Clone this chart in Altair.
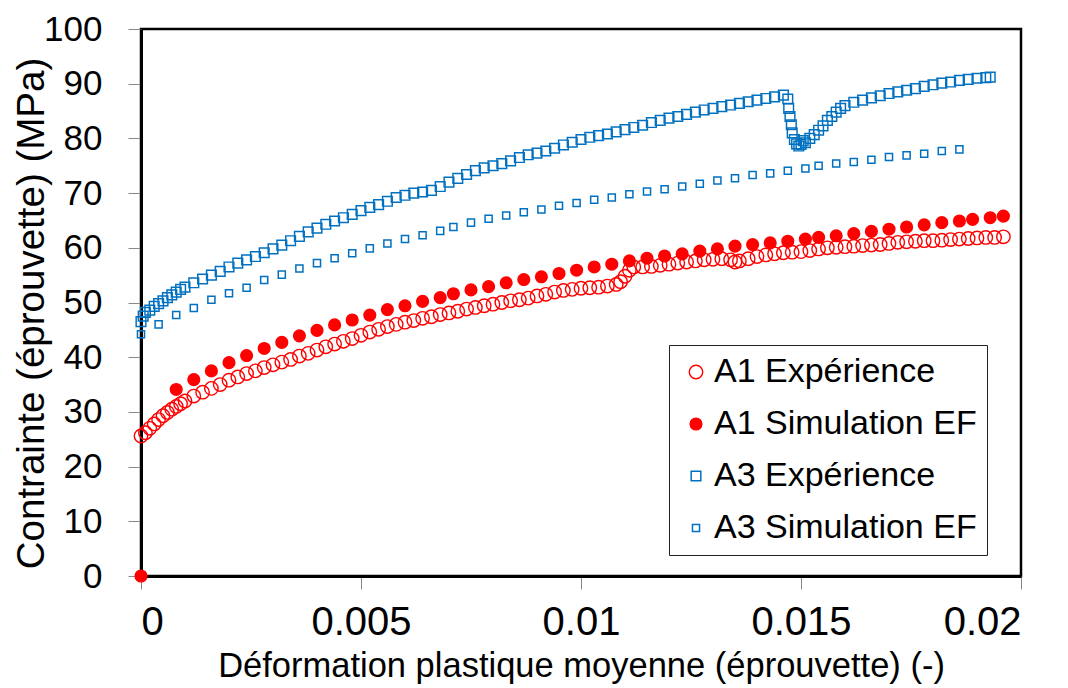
import altair as alt
import pandas as pd

series_names = ["A1 Expérience", "A1 Simulation EF", "A3 Expérience", "A3 Simulation EF"]
x_ticks = [0, 0.005, 0.01, 0.015, 0.02]
y_ticks = [0, 10, 20, 30, 40, 50, 60, 70, 80, 90, 100]

a1_exp_x = [
    0.0000, 0.0001, 0.0002, 0.0003, 0.0004, 0.0005, 0.0006, 0.0007, 0.0008, 0.0009,
    0.0010, 0.0012, 0.0014, 0.0016, 0.0018, 0.0020, 0.0022, 0.0024, 0.0026, 0.0028,
    0.0030, 0.0032, 0.0034, 0.0036, 0.0038, 0.0040, 0.0042, 0.0044, 0.0046, 0.0048,
    0.0050, 0.0052, 0.0054, 0.0056, 0.0058, 0.0060, 0.0062, 0.0064, 0.0066, 0.0068,
    0.0070, 0.0072, 0.0074, 0.0076, 0.0078, 0.0080, 0.0082, 0.0084, 0.0086, 0.0088,
    0.0090, 0.0092, 0.0094, 0.0096, 0.0098, 0.0100, 0.0102, 0.0104, 0.0106, 0.0108,
    0.0109, 0.0110, 0.0111, 0.0112, 0.0114, 0.0116, 0.0118, 0.0120, 0.0122, 0.0124,
    0.0126, 0.0128, 0.0130, 0.0132, 0.0134, 0.0135, 0.0136, 0.0138, 0.0140, 0.0142,
    0.0144, 0.0146, 0.0148, 0.0150, 0.0152, 0.0154, 0.0156, 0.0158, 0.0160, 0.0162,
    0.0164, 0.0166, 0.0168, 0.0170, 0.0172, 0.0174, 0.0176, 0.0178, 0.0180, 0.0182,
    0.0184, 0.0186, 0.0188, 0.0190, 0.0192, 0.0194, 0.0196,
]
a1_exp_y = [
    25.6, 26.2, 27.0, 27.8, 28.6, 29.3, 29.9, 30.5, 31.0, 31.5,
    32.0, 32.9, 33.6, 34.3, 35.0, 35.8, 36.4, 37.0, 37.5, 38.1,
    38.6, 39.1, 39.6, 40.2, 40.7, 41.3, 41.9, 42.4, 42.9, 43.4,
    44.0, 44.6, 45.1, 45.6, 46.0, 46.4, 46.7, 47.1, 47.4, 47.8,
    48.1, 48.4, 48.8, 49.1, 49.4, 49.7, 50.0, 50.3, 50.5, 50.8,
    51.2, 51.5, 51.9, 52.2, 52.4, 52.6, 52.7, 52.8, 53.0, 53.3,
    53.8, 54.8, 55.9, 56.5, 56.5, 56.6, 56.8, 57.0, 57.2, 57.4,
    57.6, 57.8, 57.9, 58.0, 57.8, 57.4, 57.6, 58.0, 58.4, 58.7,
    58.9, 59.1, 59.2, 59.3, 59.5, 59.8, 60.0, 60.1, 60.2, 60.3,
    60.4, 60.5, 60.6, 60.8, 61.0, 61.1, 61.2, 61.3, 61.3, 61.4,
    61.5, 61.6, 61.7, 61.8, 61.9, 61.9, 62.0,
]

a1_sim_x = [
    0.0, 0.0008, 0.0012, 0.0016, 0.0020, 0.0024, 0.0028, 0.0032, 0.0036, 0.0040,
    0.0044, 0.0048, 0.0052, 0.0056, 0.0060, 0.0064, 0.0068, 0.0071, 0.0075, 0.0079,
    0.0083, 0.0087, 0.0091, 0.0095, 0.0099, 0.0103, 0.0107, 0.0111, 0.0115, 0.0119,
    0.0123, 0.0127, 0.0131, 0.0135, 0.0139, 0.0143, 0.0147, 0.0151, 0.0154, 0.0158,
    0.0162, 0.0166, 0.0170, 0.0174, 0.0178, 0.0182, 0.0186, 0.0189, 0.0193, 0.0196,
]
a1_sim_y = [
    0.0, 34.1, 35.9, 37.5, 39.0, 40.3, 41.6, 42.7, 43.9, 44.9,
    45.9, 46.8, 47.7, 48.7, 49.4, 50.2, 50.9, 51.6, 52.3, 52.9,
    53.6, 54.2, 54.7, 55.3, 55.9, 56.5, 57.0, 57.6, 58.1, 58.5,
    58.9, 59.4, 59.8, 60.3, 60.6, 60.9, 61.2, 61.6, 61.9, 62.2,
    62.6, 63.0, 63.4, 63.8, 64.2, 64.6, 64.9, 65.2, 65.5, 65.8,
]

a3_exp_x = [
    0.0, 0.00005, 0.0001, 0.0002, 0.0003, 0.0004, 0.0005, 0.0006, 0.0007, 0.0008,
    0.0009, 0.0010, 0.0012, 0.0014, 0.0016, 0.0018, 0.0020, 0.0022, 0.0024, 0.0026,
    0.0028, 0.0030, 0.0032, 0.0034, 0.0036, 0.0038, 0.0040, 0.0042, 0.0044, 0.0046,
    0.0048, 0.0050, 0.0052, 0.0054, 0.0056, 0.0058, 0.0060, 0.0062, 0.0064, 0.0066,
    0.0068, 0.0070, 0.0072, 0.0074, 0.0076, 0.0078, 0.0080, 0.0082, 0.0084, 0.0086,
    0.0088, 0.0090, 0.0092, 0.0094, 0.0096, 0.0098, 0.0100, 0.0102, 0.0104, 0.0106,
    0.0108, 0.0110, 0.0112, 0.0114, 0.0116, 0.0118, 0.0120, 0.0122, 0.0124, 0.0126,
    0.0128, 0.0130, 0.0132, 0.0134, 0.0136, 0.0138, 0.0140, 0.0142, 0.0144, 0.0146,
    0.01470, 0.01472, 0.01475, 0.01478, 0.01480, 0.01485, 0.01490, 0.01495, 0.01500, 0.01505,
    0.01510, 0.01520, 0.01530, 0.01540, 0.01550, 0.01560, 0.01570, 0.01580, 0.01590, 0.01600,
    0.0162, 0.0164, 0.0166, 0.0168, 0.0170, 0.0172, 0.0174, 0.0176, 0.0178, 0.0180,
    0.0182, 0.0184, 0.0186, 0.0188, 0.0190, 0.0192, 0.0193,
]
a3_exp_y = [
    46.5, 47.5, 48.2, 48.6, 49.3, 49.8, 50.3, 50.9, 51.4, 51.9,
    52.4, 52.8, 53.6, 54.3, 55.0, 55.7, 56.5, 57.2, 57.8, 58.4,
    59.1, 59.8, 60.5, 61.3, 62.1, 62.9, 63.6, 64.3, 64.9, 65.5,
    66.1, 66.8, 67.4, 67.9, 68.5, 69.2, 69.6, 70.0, 70.2, 70.5,
    71.2, 72.0, 72.7, 73.4, 74.1, 74.6, 75.0, 75.4, 75.9, 76.5,
    77.0, 77.3, 77.7, 78.2, 78.8, 79.3, 79.8, 80.2, 80.5, 80.8,
    81.2, 81.6, 82.0, 82.4, 82.9, 83.3, 83.7, 84.0, 84.4, 84.8,
    85.2, 85.5, 85.8, 86.1, 86.4, 86.7, 87.0, 87.3, 87.6, 87.9,
    87.2, 85.5, 84.0, 82.5, 81.0, 79.8, 79.0, 78.6, 78.9, 79.6,
    79.2, 80.0, 80.7, 81.5, 82.3, 83.3, 84.0, 84.8, 85.5, 86.0,
    86.6, 87.0, 87.4, 87.8, 88.2, 88.5, 88.8, 89.1, 89.5, 89.8,
    90.1, 90.3, 90.6, 90.8, 91.0, 91.1, 91.2,
]

a3_sim_x = [
    0.0, 0.0004, 0.0008, 0.0012, 0.0016, 0.0020, 0.0024, 0.0028, 0.0032, 0.0036,
    0.0040, 0.0044, 0.0048, 0.0052, 0.0056, 0.0060, 0.0064, 0.0068, 0.0071, 0.0075,
    0.0079, 0.0083, 0.0087, 0.0091, 0.0095, 0.0099, 0.0103, 0.0107, 0.0111, 0.0115,
    0.0119, 0.0123, 0.0127, 0.0131, 0.0135, 0.0139, 0.0143, 0.0147, 0.0151, 0.0154,
    0.0158, 0.0162, 0.0166, 0.0170, 0.0174, 0.0178, 0.0182, 0.0186,
]
a3_sim_y = [
    44.2, 46.0, 47.7, 49.0, 50.5, 51.7, 52.7, 54.1, 55.1, 56.2,
    57.2, 58.1, 59.0, 59.9, 60.8, 61.6, 62.3, 63.1, 63.8, 64.6,
    65.3, 65.9, 66.5, 67.0, 67.7, 68.2, 68.8, 69.2, 69.8, 70.3,
    70.7, 71.2, 71.7, 72.3, 72.7, 73.3, 73.6, 74.1, 74.5, 75.0,
    75.4, 75.7, 76.1, 76.6, 76.9, 77.2, 77.7, 78.0,
]

series_data = [
    (series_names[0], a1_exp_x, a1_exp_y),
    (series_names[1], a1_sim_x, a1_sim_y),
    (series_names[2], a3_exp_x, a3_exp_y),
    (series_names[3], a3_sim_x, a3_sim_y),
]
rows = []
for name, xs, ys in series_data:
    for xv, yv in zip(xs, ys):
        rows.append({"x": xv, "y": yv, "series": name})
df = pd.DataFrame(rows)

FONT = "Liberation Sans"
RED = "#FF0000"
BLUE = "#0070C0"

legend = alt.Legend(
    title=None, orient="none", legendX=528, legendY=316,
    labelFontSize=34, labelFont=FONT, labelColor="black", labelLimit=0,
    fillColor="white", strokeColor="#222222",
    padding=10, rowPadding=18, symbolOffset=0, labelOffset=1,
)

chart = alt.Chart(df).mark_point(filled=False, opacity=1).encode(
    x=alt.X(
        "x:Q",
        scale=alt.Scale(domain=[0, 0.02], nice=False, zero=False),
        axis=alt.Axis(
            values=x_ticks, format="~g", title="Déformation plastique moyenne (éprouvette) (-)",
            labelFontSize=40, titleFontSize=34.5, labelPadding=13, titlePadding=7,
        ),
    ),
    y=alt.Y(
        "y:Q",
        scale=alt.Scale(domain=[0, 100], nice=False),
        axis=alt.Axis(
            values=y_ticks, format="d", title="Contrainte (éprouvette) (MPa)",
            labelFontSize=35, titleFontSize=38.5, labelPadding=26,
            titleX=-110, titleY=284, titleAlign="center", titleBaseline="middle",
        ),
    ),
    shape=alt.Shape("series:N", scale=alt.Scale(domain=series_names, range=["circle", "circle", "square", "square"]), legend=legend),
    stroke=alt.Stroke("series:N", scale=alt.Scale(domain=series_names, range=[RED, RED, BLUE, BLUE]), legend=legend),
    fill=alt.Fill("series:N", scale=alt.Scale(domain=series_names, range=["transparent", RED, "transparent", "transparent"]), legend=legend),
    size=alt.Size("series:N", scale=alt.Scale(domain=series_names, range=[180, 50, 250, 50]), legend=legend),
    strokeWidth=alt.StrokeWidth("series:N", scale=alt.Scale(domain=series_names, range=[1.4, 1.5, 2.0, 1.6]), legend=legend),
).properties(
    width=880, height=547,
    autosize=alt.AutoSizeParams(type="none"),
    padding={"left": 133, "top": 21, "right": 39, "bottom": 112},
).configure_view(
    stroke="black", strokeWidth=2.5
).configure_axis(
    labelFont=FONT, titleFont=FONT, labelColor="black", titleColor="black",
    titleFontWeight="normal", grid=False,
    domainColor="black", domainWidth=3,
    tickColor="#888888", tickWidth=1, tickSize=13,
)

chart.save("out.html", embed_options={"renderer": "svg", "actions": False})
